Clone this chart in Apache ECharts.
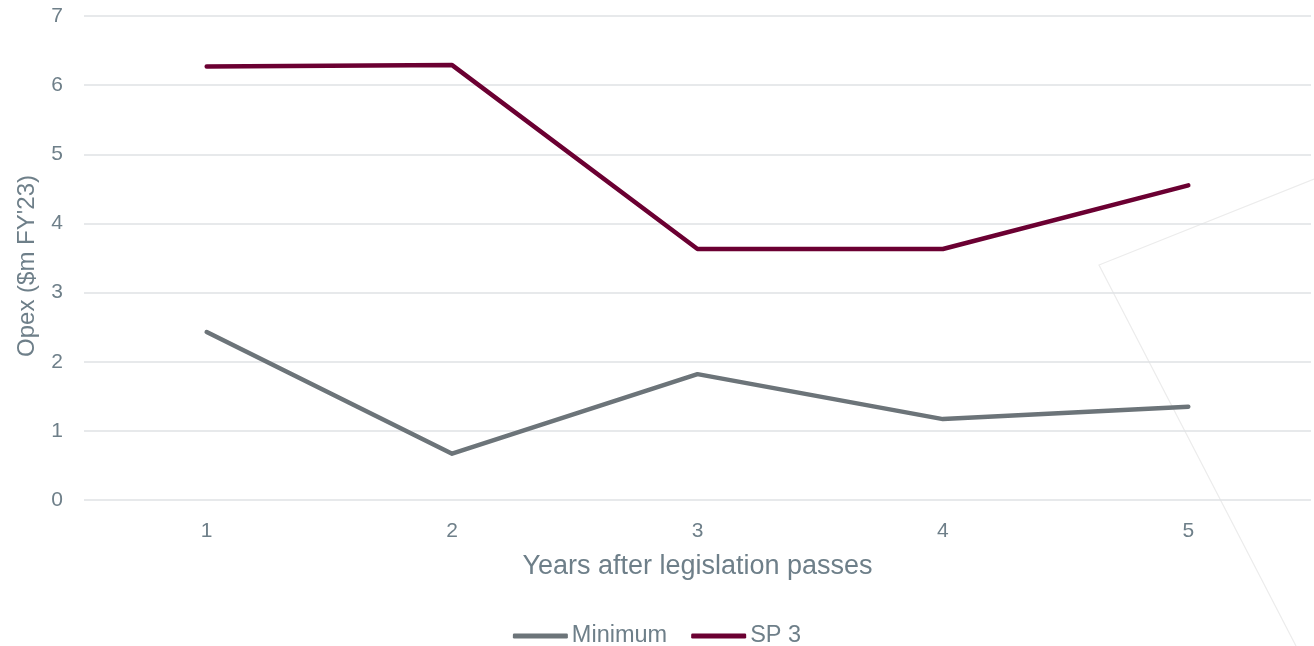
<!DOCTYPE html>
<html>
<head>
<meta charset="utf-8">
<script src="https://cdn.jsdelivr.net/npm/echarts@6/dist/echarts.min.js"></script>
<style>
  html, body { margin: 0; padding: 0; background: #fff; }
  #chart { width: 1314px; height: 646px; }
</style>
</head>
<body>
<div id="chart"></div>
<script>
// categories and values
var years = ['1', '2', '3', '4', '5'];
var minimumValues = [2.43, 0.67, 1.82, 1.17, 1.35];
var sp3Values = [6.27, 6.29, 3.63, 3.63, 4.55];
var yTicks = [0, 1, 2, 3, 4, 5, 6, 7];

var labelColor = '#6e7f89';
var fontName = "'Liberation Sans', Arial, sans-serif";
var myChart = echarts.init(document.getElementById('chart'));

var option = {
    animation: false,
    textStyle: { fontFamily: fontName },
    grid: { left: 84, right: 3, top: 16, bottom: 146 },
    legend: {
        bottom: -7,
        left: 'center',
        itemWidth: 55,
        itemHeight: 5,
        itemGap: 24,
        icon: 'roundRect',
        textStyle: { color: labelColor, fontSize: 23.5, fontFamily: fontName, padding: [0, 0, 0, -1] },
        data: ['Minimum', 'SP 3']
    },
    xAxis: {
        type: 'category',
        data: years,
        name: 'Years after legislation passes',
        nameLocation: 'middle',
        nameGap: 53,
        nameTextStyle: { color: labelColor, fontSize: 27, fontFamily: fontName },
        axisLine: { show: false },
        axisTick: { show: false },
        axisLabel: { color: labelColor, fontSize: 21, fontFamily: fontName, margin: 21 }
    },
    yAxis: {
        type: 'value',
        min: yTicks[0],
        max: yTicks[yTicks.length - 1],
        interval: 1,
        name: "Opex ($m FY'23)",
        nameLocation: 'middle',
        nameGap: 45,
        nameTextStyle: { color: labelColor, fontSize: 24, fontFamily: fontName, padding: [0, 16, 0, 0] },
        axisLabel: { color: labelColor, fontSize: 21, fontFamily: fontName, margin: 21 },
        splitLine: { lineStyle: { color: '#dfe2e5', width: 1.5 } }
    },
    series: [
        {
            name: 'Minimum',
            type: 'line',
            data: minimumValues,
            symbol: 'none',
            lineStyle: { color: '#6c7479', width: 4.5, cap: 'round', join: 'round' },
            itemStyle: { color: '#6c7479' }
        },
        {
            name: 'SP 3',
            type: 'line',
            data: sp3Values,
            symbol: 'none',
            lineStyle: { color: '#6b0032', width: 4.5, cap: 'round', join: 'round' },
            itemStyle: { color: '#6b0032' }
        }
    ],
    // faint stray outline visible on the right of the reference
    graphic: [{
        type: 'polyline',
        silent: true,
        shape: { points: [[1314, 179], [1099, 265], [1296, 646]] },
        style: { stroke: '#ececec', lineWidth: 1.2, fill: null }
    }]
};

myChart.setOption(option);
</script>
</body>
</html>
